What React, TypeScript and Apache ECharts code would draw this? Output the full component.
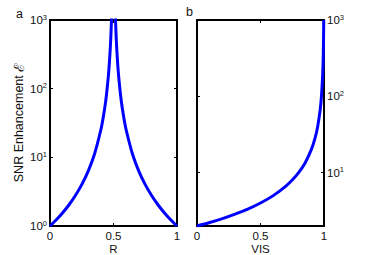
import React, { useEffect, useRef } from "react";
import * as echarts from "echarts";

const rValues = [0, 0.05, 0.1, 0.15, 0.2, 0.25, 0.3, 0.35, 0.4, 0.42, 0.44, 0.46, 0.47, 0.478, 0.484, 0.49, 0.51, 0.516, 0.522, 0.53, 0.54, 0.56, 0.58, 0.6, 0.65, 0.7, 0.75, 0.8, 0.85, 0.9, 0.95, 1];
const snrA = [1, 1.23, 1.56, 2.04, 2.78, 4, 6.25, 11.1, 25, 39, 69, 156, 278, 516, 980, 2500, 2500, 980, 516, 278, 156, 69, 39, 25, 11.1, 6.25, 4, 2.78, 2.04, 1.56, 1.23, 1];
const visValues = [0, 0.1, 0.2, 0.3, 0.4, 0.5, 0.6, 0.7, 0.75, 0.8, 0.85, 0.9, 0.93, 0.95, 0.97, 0.98, 0.99, 0.995, 0.998];
const snrB = [2, 2.22, 2.5, 2.86, 3.33, 4, 5, 6.67, 8, 10, 13.3, 20, 28.6, 40, 67, 100, 200, 400, 1000];
const xTicks = [0, 0.5, 1];

const FONT = "Liberation Sans, Arial, sans-serif";
const FS = 11.5;

const supLabel = (v: number) => {
  const e = Math.round(Math.log10(v));
  return `{b|10}{s|${e}}`;
};
const richSup = {
  b: { fontSize: FS, lineHeight: 14, fontFamily: FONT, color: "#111" },
  s: { fontSize: 7.5, lineHeight: 7, verticalAlign: "top", fontFamily: FONT, color: "#111" },
};

export default function App() {
  const ref = useRef<HTMLDivElement>(null);
  useEffect(() => {
    const chart = echarts.init(ref.current!, undefined, { renderer: "svg" });
    const axisLine = { show: true, onZero: false, lineStyle: { color: "#000", width: 2 } };
    const tick = { show: true, inside: true, length: 3, lineStyle: { color: "#000", width: 1 } };
    const xBase = (grid: number, pos: string, label: boolean, name: string) => ({
      type: "value",
      gridIndex: grid,
      position: pos,
      min: 0,
      max: 1,
      interval: 0.5,
      axisLine,
      axisTick: tick,
      splitLine: { show: false },
      name: label ? name : "",
      nameLocation: "middle",
      nameGap: 17,
      nameMoveOverlap: false,
      nameTextStyle: { fontSize: FS, fontFamily: FONT, color: "#111" },
      axisLabel: {
        show: label,
        fontSize: FS,
        fontFamily: FONT,
        color: "#111",
        margin: 4,
        formatter: (v: number) => (xTicks.includes(v) ? String(v) : ""),
      },
    });
    const yBase = (grid: number, pos: string, label: boolean, min: number) => ({
      type: "log",
      logBase: 10,
      gridIndex: grid,
      position: pos,
      min,
      max: 1000,
      axisLine,
      axisTick: tick,
      minorTick: { show: false },
      splitLine: { show: false },
      axisLabel: {
        show: label,
        showMinLabel: min === 1,
        margin: 3,
        formatter: supLabel,
        rich: richSup,
      },
    });
    const yA = {
      ...yBase(0, "left", true, 1),
      name: "SNR Enhancement {e|ℰ}",
      nameLocation: "middle",
      nameGap: 24,
      nameMoveOverlap: false,
      nameTextStyle: {
        fontSize: 12.5,
        fontFamily: FONT,
        color: "#111",
        rich: { e: { fontSize: 14, fontFamily: "DejaVu Serif", color: "#111" } },
      },
    };
    chart.setOption({
      animation: false,
      backgroundColor: "#fff",
      grid: [
        { left: 50, top: 20, width: 127, height: 206, outerBoundsMode: "none", containLabel: false },
        { left: 197, top: 20, width: 127, height: 206, outerBoundsMode: "none", containLabel: false },
      ],
      xAxis: [
        xBase(0, "bottom", true, "R"),
        xBase(0, "top", false, ""),
        xBase(1, "bottom", true, "VIS"),
        xBase(1, "top", false, ""),
      ],
      yAxis: [yA, yBase(0, "right", false, 1), yBase(1, "left", false, 2), yBase(1, "right", true, 2)],
      graphic: [
        { type: "text", left: 16, top: 7, style: { text: "a", fontSize: 12.5, fontFamily: FONT, fill: "#111" } },
        { type: "text", left: 186, top: 5, style: { text: "b", fontSize: 12.5, fontFamily: FONT, fill: "#111" } },
      ],
      series: [
        {
          type: "line",
          xAxisIndex: 0,
          yAxisIndex: 0,
          data: rValues.map((r, i) => [r, snrA[i]]),
          showSymbol: false,
          smooth: 0.3,
          clip: true,
          lineStyle: { color: "#0000ff", width: 3 },
        },
        {
          type: "line",
          xAxisIndex: 2,
          yAxisIndex: 3,
          data: visValues.map((v, i) => [v, snrB[i]]),
          showSymbol: false,
          smooth: 0.3,
          clip: true,
          lineStyle: { color: "#0000ff", width: 3 },
        },
      ],
    });
    return () => chart.dispose();
  }, []);
  return <div ref={ref} style={{ width: 382, height: 255, position: "absolute", left: 0, top: 0 }} />;
}
